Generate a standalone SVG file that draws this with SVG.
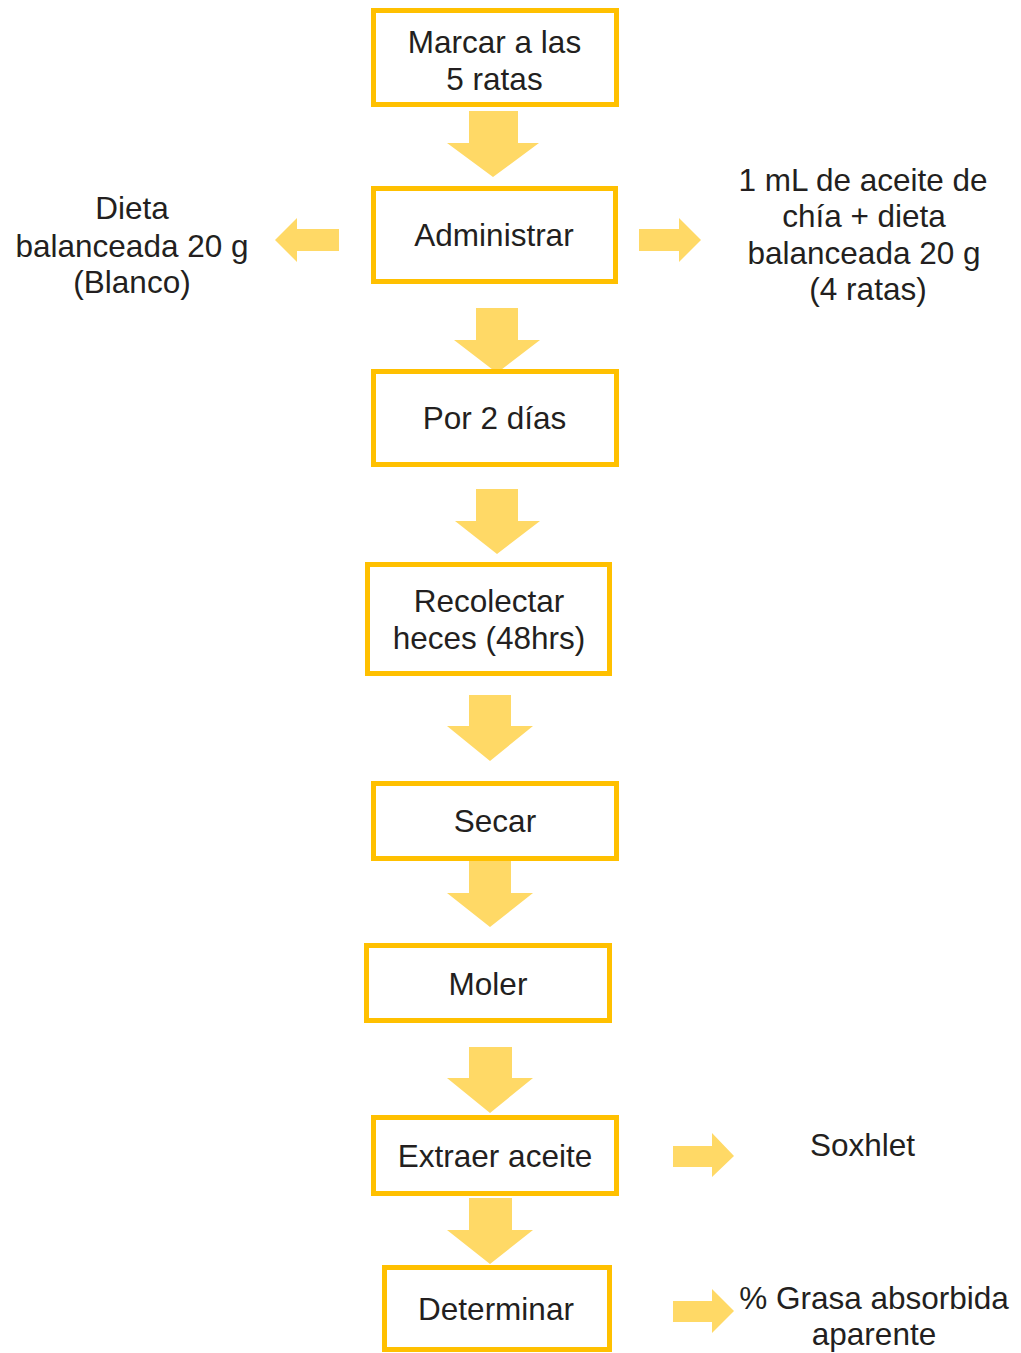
<svg xmlns="http://www.w3.org/2000/svg" width="1021" height="1353" viewBox="0 0 1021 1353">
  <style>
    .box { fill: #FFFFFF; stroke: #FFC000; stroke-width: 5; }
    .arrow { fill: #FFD966; stroke: none; }
    .t { font-family: "Liberation Sans", Arial, sans-serif; font-size: 31.5px; fill: #231F20; text-anchor: middle; }
  </style>
  <rect width="1021" height="1353" fill="#FFFFFF"/>

  <!-- block arrows between and beside the steps -->
  <g id="connectors">
    <polygon class="arrow" points="469,111 518,111 518,143 539,143 493,177 447,143 469,143"/>
    <polygon class="arrow" points="339,229 297,229 297,218 275,240 297,262 297,251 339,251"/>
    <polygon class="arrow" points="639,229 679,229 679,218 701,240 679,262 679,251 639,251"/>
    <polygon class="arrow" points="476,308 518,308 518,340 540,340 497,373 454,340 476,340"/>
    <polygon class="arrow" points="476,489 518,489 518,521 540,521 497,554 455,521 476,521"/>
    <polygon class="arrow" points="469,695 511,695 511,726 533,726 490,761 447,726 469,726"/>
    <polygon class="arrow" points="469,861 511,861 511,893 533,893 490,927 447,893 469,893"/>
    <polygon class="arrow" points="469,1047 512,1047 512,1078 533,1078 490,1113 447,1078 469,1078"/>
    <polygon class="arrow" points="469,1198 512,1198 512,1230 533,1230 490,1264 447,1230 469,1230"/>
    <polygon class="arrow" points="673,1146 712,1146 712,1133 734,1156 712,1177 712,1167 673,1167"/>
    <polygon class="arrow" points="673,1301 712,1301 712,1289 734,1311 712,1333 712,1322 673,1322"/>
  </g>

  <g id="marcar">
    <rect class="box" x="373.5" y="10.5" width="243" height="94"/>
    <text class="t" x="494.5" y="53">Marcar a las</text>
    <text class="t" x="494.5" y="90">5 ratas</text>
  </g>

  <g id="administrar">
    <rect class="box" x="373.5" y="188.5" width="242" height="93"/>
    <text class="t" x="494" y="245.5">Administrar</text>
  </g>

  <g id="dieta-blanco">
    <text class="t" x="132" y="219">Dieta</text>
    <text class="t" x="132" y="256.5">balanceada 20 g</text>
    <text class="t" x="132" y="293">(Blanco)</text>
  </g>

  <g id="aceite-chia">
    <text class="t" x="863" y="190.5">1 mL de aceite de</text>
    <text class="t" x="864" y="227">chía + dieta</text>
    <text class="t" x="864" y="263.5">balanceada 20 g</text>
    <text class="t" x="868" y="300">(4 ratas)</text>
  </g>

  <g id="por-2-dias">
    <rect class="box" x="373.5" y="371.5" width="243" height="93"/>
    <text class="t" x="494.5" y="428.5">Por 2 días</text>
  </g>

  <g id="recolectar">
    <rect class="box" x="367.5" y="564.5" width="242" height="109"/>
    <text class="t" x="489" y="612">Recolectar</text>
    <text class="t" x="489" y="648.5">heces (48hrs)</text>
  </g>

  <g id="secar">
    <rect class="box" x="373.5" y="783.5" width="243" height="75"/>
    <text class="t" x="495" y="831.5">Secar</text>
  </g>

  <g id="moler">
    <rect class="box" x="366.5" y="945.5" width="243" height="75"/>
    <text class="t" x="488" y="995">Moler</text>
  </g>

  <g id="extraer">
    <rect class="box" x="373.5" y="1117.5" width="243" height="76"/>
    <text class="t" x="495" y="1166.5">Extraer aceite</text>
  </g>

  <g id="soxhlet">
    <text class="t" x="862.5" y="1156">Soxhlet</text>
  </g>

  <g id="determinar">
    <rect class="box" x="384.5" y="1267.5" width="225" height="82"/>
    <text class="t" x="496" y="1320">Determinar</text>
  </g>

  <g id="grasa">
    <text class="t" x="874" y="1309">% Grasa absorbida</text>
    <text class="t" x="874" y="1345">aparente</text>
  </g>
</svg>
